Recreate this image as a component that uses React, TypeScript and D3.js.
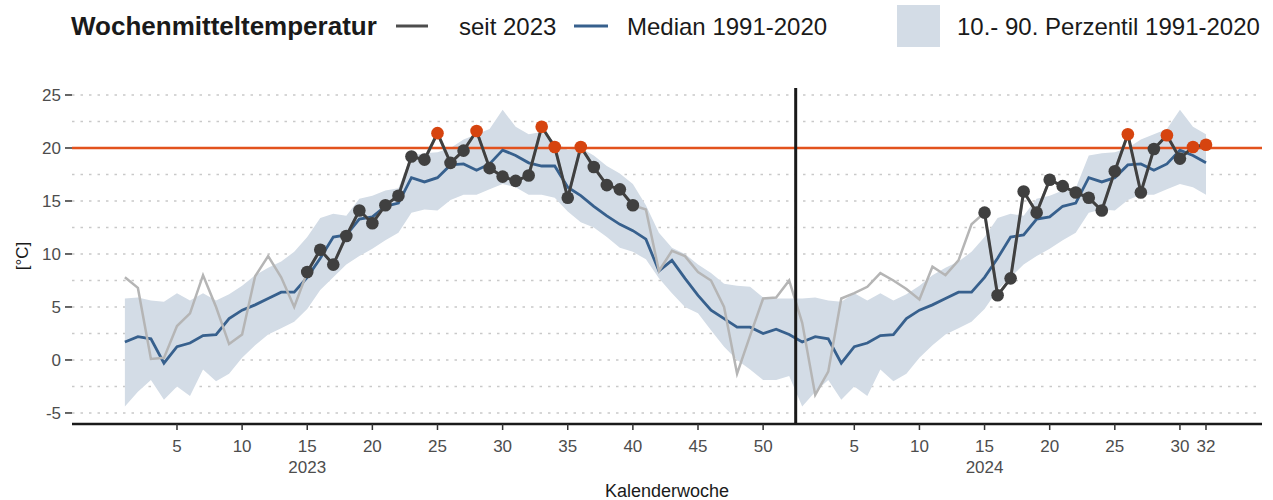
import React, { useEffect, useRef } from "react";
import * as d3 from "d3";

// Klimatologie 1991-2020, Kalenderwoche 1..52
const median9120 = [
  1.7, 2.2, 2.0, -0.3, 1.25, 1.6, 2.3, 2.4, 3.9, 4.7, 5.2, 5.8, 6.4, 6.4, 7.8, 9.6, 11.6, 11.8, 13.3, 13.5,
  14.5, 14.8, 17.2, 16.8, 17.2, 18.4, 18.5, 17.9, 18.5, 19.8, 19.3, 18.6, 18.3, 18.3, 16.3, 15.5, 14.5, 13.6,
  12.8, 12.2, 11.4, 8.4, 9.4, 7.7, 6.1, 4.7, 3.9, 3.1, 3.1, 2.5, 2.9, 2.4,
];
const p10 = [
  -4.4, -3.0, -1.9, -3.75, -2.5, -3.4, -0.9, -2.0, -1.3, 0.2, 1.4, 2.4, 3.0, 3.6, 4.8, 6.6, 7.8, 9.0, 9.8, 10.5,
  11.3, 12.0, 13.9, 14.2, 14.1, 15.1, 15.6, 15.6, 16.1, 16.6, 16.3, 15.6, 15.6, 15.3, 14.0, 13.0, 12.5, 11.6,
  10.6, 10.2, 9.5, 7.7, 6.3, 5.0, 4.4, 2.8, 1.25, 0.0, -0.9, -1.9, -1.9, -1.5,
];
const p90 = [
  5.8, 5.9, 5.6, 5.5, 6.3, 5.6, 6.3, 5.6, 6.2, 7.0, 8.0, 8.7, 9.3, 10.2, 11.6, 13.4, 13.8, 13.6, 15.2, 15.5,
  16.0, 16.2, 19.3, 19.5, 19.6, 20.0, 20.8, 21.3, 21.8, 23.6, 22.0, 21.3, 21.5, 20.6, 19.8, 20.0, 19.3, 18.3,
  17.6, 16.6, 14.6, 12.0, 10.6, 10.0, 9.0, 8.2, 7.2, 7.0, 6.9, 5.9, 5.8, 5.8,
];

// Wochenmittel seit 2023
const temp2023 = [
  7.8, 6.8, 0.1, 0.2, 3.2, 4.4, 8.0, 5.0, 1.5, 2.4, 7.9, 9.8, 7.8, 5.0, 8.3, 10.4, 9.0, 11.7, 14.1, 12.9,
  14.6, 15.5, 19.2, 18.9, 21.4, 18.6, 19.75, 21.6, 18.1, 17.3, 16.9, 17.4, 22.0, 20.1, 15.3, 20.1, 18.2, 16.5,
  16.1, 14.6, 14.2, 8.4, 10.3, 9.8, 8.3, 7.5, 5.0, -1.3, 2.3, 5.8, 5.9, 7.5,
];
const temp2024 = [
  3.5, -3.3, -1.1, 5.8, 6.3, 6.9, 8.2, 7.5, 6.7, 5.7, 8.8, 8.0, 9.4, 12.8, 13.9, 6.1, 7.7, 15.9, 13.9, 17.0,
  16.4, 15.8, 15.3, 14.1, 17.8, 21.3, 15.8, 19.9, 21.2, 19.0, 20.1, 20.3,
];

const xTicks2023 = [5, 10, 15, 20, 25, 30, 35, 40, 45, 50];
const xTicks2024 = [5, 10, 15, 20, 25, 30, 32];
const yTicks = [-5, 0, 5, 10, 15, 20, 25];
const yGrid = [-5, -2.5, 0, 2.5, 5, 7.5, 10, 12.5, 15, 17.5, 20, 22.5, 25];

const FONT = "'Liberation Sans', Arial, sans-serif";

type Row = { idx: number; week: number; med: number; lo: number; hi: number; t: number };

const App = () => {
  const ref = useRef<SVGSVGElement>(null);

  useEffect(() => {
    const svg = d3.select(ref.current);
    svg.selectAll("*").remove();

    const rows: Row[] = [];
    temp2023.forEach((t, i) =>
      rows.push({ idx: i + 1, week: i + 1, med: median9120[i], lo: p10[i], hi: p90[i], t })
    );
    temp2024.forEach((t, i) =>
      rows.push({ idx: 53 + i, week: i + 1, med: median9120[i], lo: p10[i], hi: p90[i], t })
    );

    const x = d3.scaleLinear().domain([-3.06, 88.3]).range([72, 1262]);
    const y = d3.scaleLinear().domain([-6.04, 25.66]).range([424, 88]);
    const [x0, x1] = x.range();

    // grid
    svg.append("g")
      .selectAll("line")
      .data(yGrid)
      .join("line")
      .attr("x1", x0)
      .attr("x2", x1)
      .attr("y1", (d) => y(d))
      .attr("y2", (d) => y(d))
      .attr("stroke", "#c9c9c9")
      .attr("stroke-width", 1.5)
      .attr("stroke-dasharray", "2.5,6");

    // Perzentil-Band
    const area = d3.area<Row>()
      .x((d) => x(d.idx))
      .y0((d) => y(d.lo))
      .y1((d) => y(d.hi));
    svg.append("path").datum(rows).attr("d", area).attr("fill", "#d3dce6");

    // 20 Grad Linie
    svg.append("line")
      .attr("x1", x0).attr("x2", x1)
      .attr("y1", y(20)).attr("y2", y(20))
      .attr("stroke", "#e2521d").attr("stroke-width", 2.5);

    // Median
    const medLine = d3.line<Row>().x((d) => x(d.idx)).y((d) => y(d.med));
    svg.append("path").datum(rows).attr("d", medLine)
      .attr("fill", "none").attr("stroke", "#37608d").attr("stroke-width", 2.8);

    // Wochenmittel (grau)
    const tLine = d3.line<Row>().x((d) => x(d.idx)).y((d) => y(d.t));
    svg.append("path").datum(rows).attr("d", tLine)
      .attr("fill", "none").attr("stroke", "#b5b5b5").attr("stroke-width", 2.5);

    // Sommerwochen dunkel
    const summer = (d: Row) => d.week >= 15 && d.week <= 40;
    svg.append("path").datum(rows).attr("d", tLine.defined(summer))
      .attr("fill", "none").attr("stroke", "#404040").attr("stroke-width", 3);

    svg.append("g")
      .selectAll("circle")
      .data(rows.filter(summer))
      .join("circle")
      .attr("cx", (d) => x(d.idx))
      .attr("cy", (d) => y(d.t))
      .attr("r", 6.3)
      .attr("fill", (d) => (d.t > 20 ? "#d6440f" : "#404040"));

    // Jahreswechsel
    svg.append("line")
      .attr("x1", x(52.5)).attr("x2", x(52.5))
      .attr("y1", 88).attr("y2", 424)
      .attr("stroke", "#1a1a1a").attr("stroke-width", 3);

    // x Achse
    svg.append("line")
      .attr("x1", x0).attr("x2", x1)
      .attr("y1", 424).attr("y2", 424)
      .attr("stroke", "#1a1a1a").attr("stroke-width", 2.5);

    const xt = [
      ...xTicks2023.map((w) => ({ pos: w, label: String(w) })),
      ...xTicks2024.map((w) => ({ pos: 52 + w, label: String(w) })),
    ];
    const xg = svg.append("g").selectAll("g").data(xt).join("g")
      .attr("transform", (d) => `translate(${x(d.pos)},424)`);
    xg.append("line").attr("y1", 0).attr("y2", 6).attr("stroke", "#333").attr("stroke-width", 1.5);
    xg.append("text").attr("y", 28).attr("text-anchor", "middle")
      .attr("font-size", 17).attr("fill", "#4d4d4d").style("font-family", FONT)
      .text((d) => d.label);

    svg.append("g").selectAll("text")
      .data([{ pos: 15, label: "2023" }, { pos: 67, label: "2024" }])
      .join("text")
      .attr("x", (d) => x(d.pos)).attr("y", 473)
      .attr("text-anchor", "middle").attr("font-size", 17).attr("fill", "#4d4d4d")
      .style("font-family", FONT)
      .text((d) => d.label);

    svg.append("text")
      .attr("x", (x0 + x1) / 2).attr("y", 497)
      .attr("text-anchor", "middle").attr("font-size", 18).attr("fill", "#1a1a1a")
      .style("font-family", FONT)
      .text("Kalenderwoche");

    // y Achse
    const yg = svg.append("g").selectAll("g").data(yTicks).join("g")
      .attr("transform", (d) => `translate(0,${y(d)})`);
    yg.append("line").attr("x1", 65).attr("x2", 72).attr("stroke", "#333").attr("stroke-width", 1.5);
    yg.append("text").attr("x", 61).attr("dy", "0.35em").attr("text-anchor", "end")
      .attr("font-size", 17).attr("fill", "#4d4d4d").style("font-family", FONT)
      .text((d) => d);

    svg.append("text")
      .attr("transform", `translate(22,${(y.range()[0] + y.range()[1]) / 2}) rotate(-90)`)
      .attr("dy", "0.35em")
      .attr("text-anchor", "middle").attr("font-size", 17).attr("fill", "#1a1a1a")
      .style("font-family", FONT)
      .text("[°C]");

    // Legende
    const lg = svg.append("g").style("font-family", FONT);
    lg.append("text").attr("x", 71).attr("y", 35).attr("font-size", 26)
      .attr("font-weight", "bold").attr("fill", "#1a1a1a").text("Wochenmitteltemperatur");
    lg.append("line").attr("x1", 396).attr("x2", 428).attr("y1", 26).attr("y2", 26)
      .attr("stroke", "#4d4d4d").attr("stroke-width", 3);
    lg.append("text").attr("x", 459).attr("y", 35).attr("font-size", 24)
      .attr("fill", "#1a1a1a").text("seit 2023");
    lg.append("line").attr("x1", 574).attr("x2", 608).attr("y1", 26).attr("y2", 26)
      .attr("stroke", "#37608d").attr("stroke-width", 3);
    lg.append("text").attr("x", 627).attr("y", 35).attr("font-size", 24)
      .attr("fill", "#1a1a1a").text("Median 1991-2020");
    lg.append("rect").attr("x", 897).attr("y", 5).attr("width", 43).attr("height", 42)
      .attr("fill", "#d3dce6");
    lg.append("text").attr("x", 957).attr("y", 35).attr("font-size", 24)
      .attr("fill", "#1a1a1a").text("10.- 90. Perzentil 1991-2020");
  }, []);

  return (
    <svg
      ref={ref}
      width={1273}
      height={500}
      style={{ position: "absolute", left: 0, top: 0, background: "#fff" }}
    />
  );
};

export default App;
